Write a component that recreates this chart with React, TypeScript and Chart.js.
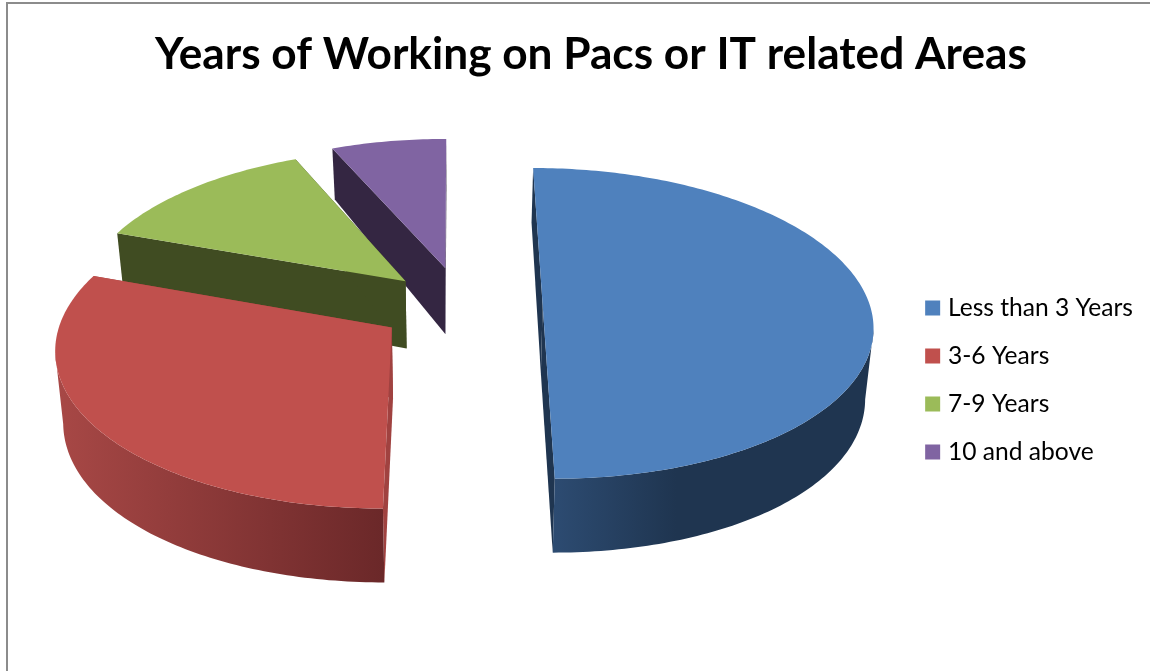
import React, { useEffect, useRef } from "react";
import { ArcElement, Chart, PieController, registerables } from "chart.js";

const chartTitle = "Years of Working on Pacs or IT related Areas";
const categories = ["Less than 3 Years", "3-6 Years", "7-9 Years", "10 and above"];
const shares = [50, 30.5, 13, 6.5];
const explode = [88, 84, 74, 82];
const sideways = [0, 7, 4, 7];
const topColors = ["#4f81bd", "#c0504d", "#9bbb59", "#8064a2"];
const cutFaceColors = ["#1f3550", "#a04240", "#404c22", "#342642"];
const rimStops = [
  ["#2f4f77", "#1f3550"],
  ["#a84846", "#6b2829"],
  ["#404c22", "#404c22"],
  ["#342642", "#342642"],
];

// Camera used to lay the flat pie down on the page.
const CAMERA = 2700;
const TILT = 0.468;
const LIFT = 75.5;
const SHIFT = -18;
const NARROWING = 0.02;

function depthAt(v: number) {
  return 69 + 0.03 * v - 0.000045 * v * v;
}

class TiltedArc extends ArcElement {
  static id = "tiltedArc";

  project(chartX: number, chartY: number, u: number, v: number, low: number) {
    const w = 1 - v / CAMERA;
    const x = u / w;
    const y = (v * TILT) / w + low * depthAt(v);
    return [chartX + SHIFT + x * (1 - NARROWING * low), chartY - LIFT + y];
  }

  draw(ctx: CanvasRenderingContext2D) {
    const self = this as any;
    const { x, y, startAngle, endAngle, outerRadius, options } = self;
    const index = self.$context.index;
    const mid = (startAngle + endAngle) / 2;
    const ou = Math.cos(mid) * options.offset + sideways[index];
    const ov = Math.sin(mid) * options.offset;
    const steps = Math.max(8, Math.ceil((endAngle - startAngle) * 60));
    const rim: number[][] = [];
    for (let i = 0; i <= steps; i++) {
      const a = startAngle + ((endAngle - startAngle) * i) / steps;
      rim.push([ou + outerRadius * Math.cos(a), ov + outerRadius * Math.sin(a)]);
    }
    const at = (p: number[], low: number) => this.project(x, y, p[0], p[1], low);
    const apex = [ou, ov];
    const trace = (pts: number[][]) => {
      ctx.beginPath();
      pts.forEach((p, i) => (i ? ctx.lineTo(p[0], p[1]) : ctx.moveTo(p[0], p[1])));
      ctx.closePath();
    };

    ctx.save();
    // Straight cut faces of the wedge.
    ctx.fillStyle = cutFaceColors[index];
    for (const end of [rim[0], rim[steps]]) {
      trace([at(apex, 0), at(end, 0), at(end, 1), at(apex, 1)]);
      ctx.fill();
    }
    // Curved outer wall: only the part of the rim that runs right to left faces the viewer.
    const upper = rim.map((p) => at(p, 0));
    const lower = rim.map((p) => at(p, 1));
    const xs = upper.map((p) => p[0]);
    const left = Math.min(...xs);
    const right = Math.max(...xs);
    let first = -1;
    let last = -1;
    for (let i = 0; i < steps; i++) {
      if (upper[i + 1][0] < upper[i][0]) {
        if (first < 0) first = i;
        last = i + 1;
      }
    }
    if (first >= 0) {
      const shade = ctx.createLinearGradient(left, 0, right, 0);
      shade.addColorStop(0, rimStops[index][0]);
      shade.addColorStop(index === 0 ? 0.42 : 1, rimStops[index][1]);
      if (index === 0) shade.addColorStop(1, rimStops[index][1]);
      ctx.fillStyle = shade;
      trace([...upper.slice(first, last + 1), ...lower.slice(first, last + 1).reverse()]);
      ctx.fill();
    }
    // Top face.
    ctx.fillStyle = options.backgroundColor;
    trace([at(apex, 0), ...upper]);
    ctx.fill();
    ctx.restore();
  }
}

class TiltedPie extends PieController {
  static id = "tiltedPie";
  static defaults = { dataElementType: "tiltedArc" };

  // Far wedges first, so nearer wedges cover their walls.
  draw() {
    const meta = (this as any)._cachedMeta;
    const ctx = (this as any).chart.ctx;
    for (let i = meta.data.length - 1; i >= 0; i--) meta.data[i].draw(ctx);
  }
}

const chartFrame = {
  id: "chartFrame",
  beforeDraw(chart: Chart) {
    const { ctx, width, height } = chart;
    ctx.save();
    ctx.fillStyle = "#ffffff";
    ctx.fillRect(0, 0, width, height);
    ctx.fillStyle = "#8c8c8c";
    ctx.fillRect(6, 2, width - 6, 2);
    ctx.fillRect(6, 2, 2, height - 2);
    ctx.restore();
  },
};

Chart.register(...registerables, TiltedArc, TiltedPie);

export default function App() {
  const canvasRef = useRef<HTMLCanvasElement>(null);

  useEffect(() => {
    const chart = new Chart(canvasRef.current!, {
      type: "tiltedPie" as any,
      data: {
        labels: categories,
        datasets: [
          {
            data: shares,
            backgroundColor: topColors,
            offset: explode,
            borderWidth: 0,
            radius: 327,
          } as any,
        ],
      },
      options: {
        responsive: false,
        animation: false,
        layout: { padding: { left: 39, right: 7, top: 0, bottom: 0 } },
        plugins: {
          title: {
            display: true,
            text: chartTitle,
            color: "#000000",
            font: { family: "Lato", size: 44.2, weight: "bold" },
            padding: { top: 28, bottom: 8 },
          },
          legend: {
            position: "right",
            fullSize: false,
            labels: {
              boxWidth: 6,
              boxHeight: 6,
              padding: 23.4,
              color: "#111111",
              font: { family: "Lato", size: 24.6 },
              // Swatches are widened by a stroke in their own colour.
              generateLabels: () =>
                categories.map((text, i) => ({
                  text,
                  fillStyle: topColors[i],
                  strokeStyle: topColors[i],
                  lineWidth: 9,
                  hidden: false,
                  index: i,
                })),
            },
          },
          tooltip: { enabled: false },
        },
      },
      plugins: [chartFrame],
    });
    return () => chart.destroy();
  }, []);

  return (
    <div style={{ position: "absolute", left: 0, top: 0 }}>
      <canvas ref={canvasRef} width={1150} height={671} style={{ display: "block" }} />
    </div>
  );
}
